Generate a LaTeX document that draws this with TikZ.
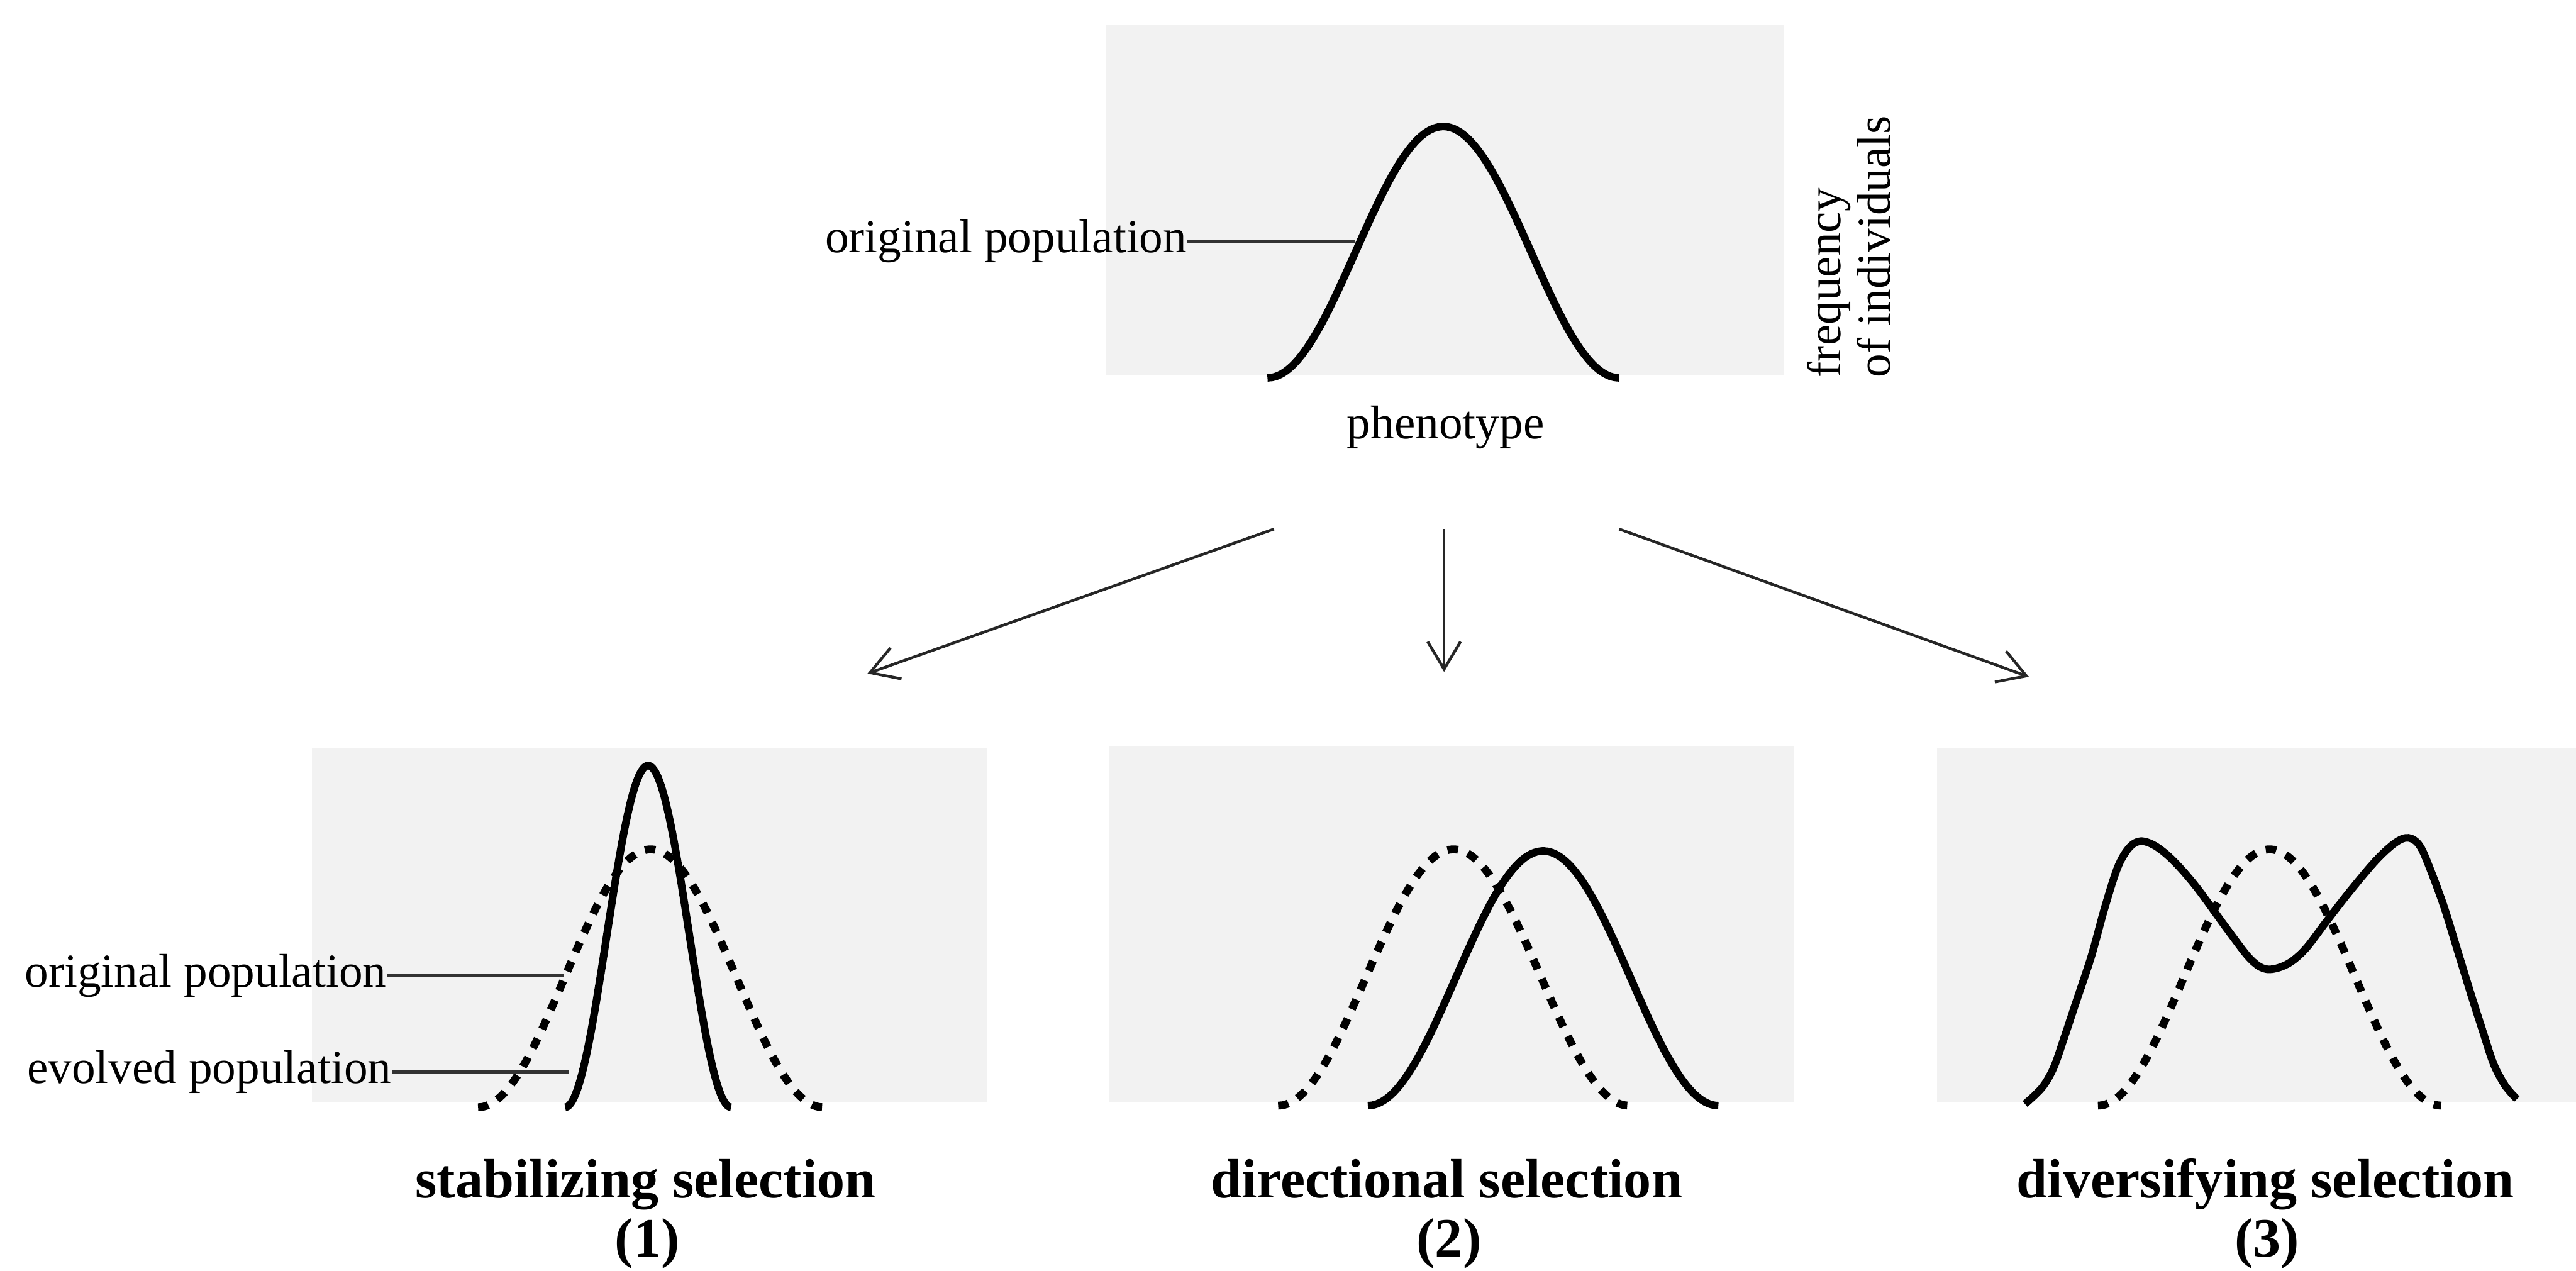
\documentclass[tikz,border=0pt]{standalone}
\usepackage{fontspec}
\setmainfont{Liberation Serif}
\usetikzlibrary{arrows.meta}
\begin{document}
\begin{tikzpicture}[x=0.25mm, y=-0.25mm,
  bgbox/.style={fill=black!5, draw=none},
  solidcurve/.style={line width=1.15mm, line join=round},
  dotcurve/.style={line width=1.2mm, dash pattern=on 1.6mm off 1.6mm},
  leader/.style={line width=0.45mm, draw=black!80},
  lab/.style={font=\fontsize{20.5}{21.5}\selectfont, inner sep=0pt},
  ttl/.style={font=\fontsize{24}{26}\selectfont\bfseries, inner sep=0pt, anchor=base},
  arr/.style={line width=0.42mm, draw=black!85, -{Straight Barb[length=4.2mm,width=5mm]}},
]
\useasboundingbox (0,0) rectangle (1568,773.65);
\fill[white] (0,0) rectangle (1568,773.65);

% grey backgrounds
\fill[bgbox] (673,15) rectangle (1086,228);
\fill[bgbox] (190,455) rectangle (601,671);
\fill[bgbox] (675,454) rectangle (1092,671);
\fill[bgbox] (1179,455) rectangle (1568,671);

% top curve
\draw[solidcurve] plot[domain=-1:1, samples=81, smooth] ({878.5+107*\x},{230-153*(1+cos(180*\x))/2});
\node[lab, anchor=east] (topl) at (722.7,147) {original population};
\coordinate (topc) at (825,147);
\draw[leader] (topl.east) -- (topc);
\node[lab, rotate=90, anchor=west, align=left] (freq) at (1125.5,230) {frequency\\of individuals};
\node[lab] (pheno) at (880,260) {phenotype};

% arrows
\coordinate (a1s) at (775.5,322);
\coordinate (a1e) at (528,410);
\coordinate (a2s) at (879,322);
\coordinate (a2e) at (879,409);
\coordinate (a3s) at (985.5,322);
\coordinate (a3e) at (1235,412);
\draw[arr] (a1s) -- (a1e);
\draw[arr] (a2s) -- (a2e);
\draw[arr] (a3s) -- (a3e);

% panel 1: stabilizing
\draw[dotcurve] plot[domain=-1:1, samples=81, smooth] ({396+105*\x},{674-157*(1+cos(180*\x))/2});
\draw[solidcurve] plot[domain=-1:1, samples=81, smooth] ({394.5+50.5*\x},{674-208*(1+cos(180*\x))/2});
\node[lab, anchor=east] (orig1) at (235.5,594) {original population};
\node[lab, anchor=east] (evol1) at (238.5,652.4) {evolved population};
\coordinate (orig1c) at (343,594);
\coordinate (evol1c) at (346,652.4);
\draw[leader] (orig1.east) -- (orig1c);
\draw[leader] (evol1.east) -- (evol1c);
\node[ttl] (t1) at (393,729) {stabilizing selection};
\node[ttl] (n1) at (394,765) {(1)};

% panel 2: directional
\draw[dotcurve] plot[domain=-1:1, samples=81, smooth] ({884.75+106.75*\x},{673-156*(1+cos(180*\x))/2});
\draw[solidcurve] plot[domain=-1:1, samples=81, smooth] ({939.3+106.7*\x},{673-155*(1+cos(180*\x))/2});
\node[ttl] (t2) at (880.5,729) {directional selection};
\node[ttl] (n2) at (882,765) {(2)};

% panel 3: diversifying
\draw[dotcurve] plot[domain=-1:1, samples=81, smooth] ({1381.5+104.5*\x},{673-156*(1+cos(180*\x))/2});
\draw[solidcurve] plot[smooth, tension=0.55] coordinates {(1232.6,672) (1243,662) (1250,650) (1256,633) (1264,609) (1273,582) (1281,553) (1289,528) (1296,516) (1303,512) (1312,515) (1323,524) (1337,540) (1356,566) (1370,584) (1380,590) (1392,587) (1403,578) (1416,561) (1430,543) (1446,524) (1458,513) (1466,510) (1473,515) (1480,531) (1488,553) (1496,579) (1504,605) (1512,630) (1518,648) (1525,661) (1532,669)};
\node[ttl] (t3) at (1379,729) {diversifying selection};
\node[ttl] (n3) at (1380,765) {(3)};
\end{tikzpicture}
\end{document}
